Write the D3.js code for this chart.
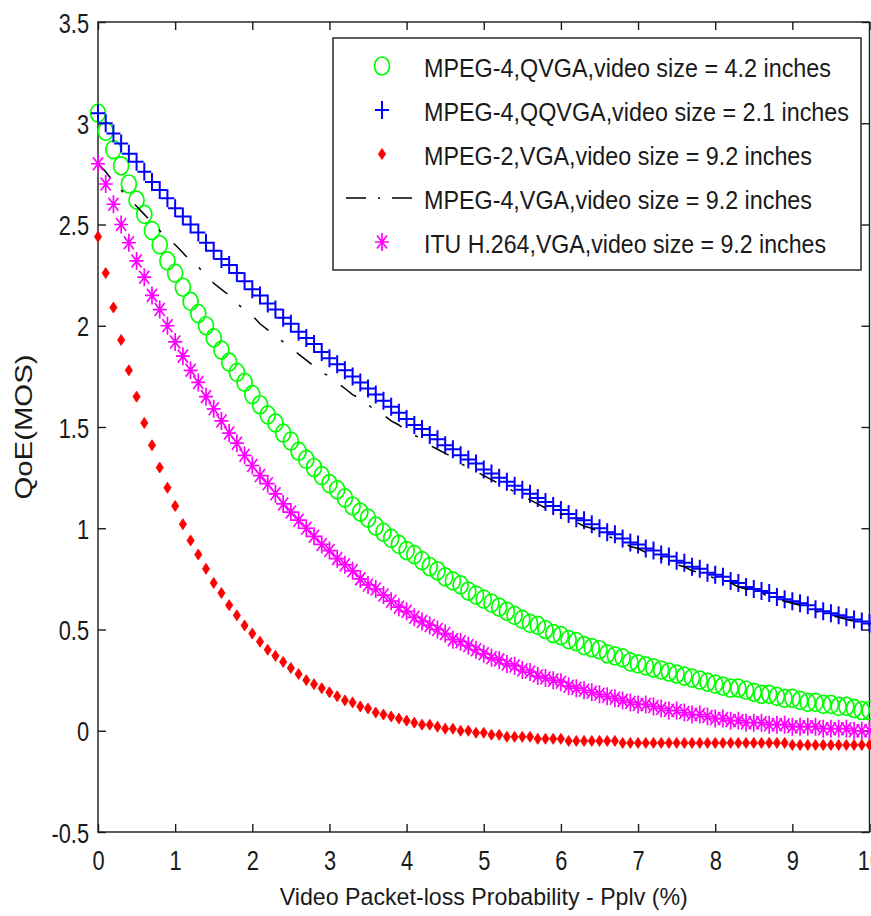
<!DOCTYPE html>
<html>
<head>
<meta charset="utf-8">
<script src="https://cdn.jsdelivr.net/npm/d3@7"></script>
<style>
  body { margin: 0; background: #fff; }
  svg { display: block; font-family: "Liberation Sans", Arial, sans-serif; }
</style>
</head>
<body>
<svg id="chart" width="871" height="916"></svg>
<script>
// tick values of both axes
const xTicks = [0, 1, 2, 3, 4, 5, 6, 7, 8, 9, 10];
const yTicks = [-0.5, 0, 0.5, 1, 1.5, 2, 2.5, 3, 3.5];

// packet loss probability (%) of every plotted point
const pplv = d3.range(0, 101).map(i => i / 10);

// QoE (MOS), one value per 0.1 %
const qvga = [
  3.05,2.96,2.87,2.79,2.70,2.62,2.55,2.47,2.40,2.32,
  2.26,2.19,2.12,2.06,2.00,1.94,1.88,1.82,1.77,1.72,
  1.66,1.61,1.56,1.52,1.47,1.43,1.38,1.34,1.30,1.26,
  1.22,1.19,1.15,1.11,1.08,1.05,1.01,0.98,0.95,0.92,
  0.89,0.87,0.84,0.81,0.79,0.76,0.74,0.72,0.69,0.67,
  0.65,0.63,0.61,0.59,0.57,0.55,0.53,0.52,0.50,0.48,
  0.47,0.45,0.44,0.42,0.41,0.40,0.38,0.37,0.36,0.34,
  0.33,0.32,0.31,0.30,0.29,0.28,0.27,0.26,0.25,0.24,
  0.23,0.22,0.21,0.21,0.20,0.19,0.18,0.18,0.17,0.16,
  0.16,0.15,0.14,0.14,0.13,0.13,0.12,0.12,0.11,0.10,
  0.10
];
const qqvga = [
  3.05,3.00,2.95,2.90,2.85,2.81,2.76,2.71,2.67,2.63,
  2.58,2.54,2.50,2.46,2.41,2.37,2.33,2.30,2.26,2.22,
  2.18,2.15,2.11,2.08,2.04,2.01,1.97,1.94,1.91,1.87,
  1.84,1.81,1.78,1.75,1.72,1.69,1.66,1.63,1.60,1.57,
  1.54,1.51,1.49,1.46,1.44,1.41,1.39,1.36,1.34,1.32,
  1.29,1.27,1.25,1.23,1.21,1.19,1.17,1.15,1.13,1.11,
  1.09,1.07,1.05,1.04,1.02,1.00,0.98,0.97,0.95,0.93,
  0.92,0.90,0.89,0.87,0.86,0.84,0.83,0.81,0.80,0.78,
  0.77,0.76,0.74,0.73,0.71,0.70,0.69,0.68,0.66,0.65,
  0.64,0.63,0.62,0.60,0.59,0.58,0.57,0.56,0.55,0.54,
  0.53
];
const mpeg2Vga = [
  2.44,2.26,2.09,1.93,1.78,1.65,1.52,1.41,1.30,1.20,
  1.11,1.02,0.94,0.87,0.80,0.73,0.68,0.62,0.57,0.52,
  0.48,0.44,0.40,0.37,0.34,0.31,0.28,0.25,0.23,0.21,
  0.19,0.17,0.15,0.14,0.12,0.11,0.09,0.08,0.07,0.06,
  0.05,0.04,0.03,0.03,0.02,0.01,0.01,0.00,0.00,-0.01,
  -0.01,-0.02,-0.02,-0.03,-0.03,-0.03,-0.03,-0.04,-0.04,-0.04,
  -0.04,-0.05,-0.05,-0.05,-0.05,-0.05,-0.05,-0.05,-0.06,-0.06,
  -0.06,-0.06,-0.06,-0.06,-0.06,-0.06,-0.06,-0.06,-0.06,-0.06,
  -0.06,-0.06,-0.06,-0.06,-0.06,-0.06,-0.06,-0.06,-0.06,-0.06,
  -0.07,-0.07,-0.07,-0.07,-0.07,-0.07,-0.07,-0.07,-0.07,-0.07,
  -0.07
];
const mpeg4Vga = [
  2.80,2.76,2.71,2.67,2.63,2.59,2.55,2.51,2.47,2.43,
  2.40,2.36,2.32,2.29,2.25,2.21,2.18,2.15,2.11,2.08,
  2.05,2.01,1.98,1.95,1.92,1.89,1.86,1.83,1.80,1.77,
  1.75,1.72,1.69,1.66,1.64,1.61,1.58,1.56,1.53,1.51,
  1.48,1.46,1.44,1.41,1.39,1.37,1.35,1.32,1.30,1.28,
  1.26,1.24,1.22,1.20,1.18,1.16,1.14,1.12,1.10,1.08,
  1.07,1.05,1.03,1.01,1.00,0.98,0.96,0.95,0.93,0.91,
  0.90,0.88,0.87,0.85,0.84,0.82,0.81,0.79,0.78,0.77,
  0.75,0.74,0.73,0.71,0.70,0.69,0.68,0.66,0.65,0.64,
  0.63,0.62,0.60,0.59,0.58,0.57,0.56,0.55,0.54,0.53,
  0.52
];
const h264Vga = [
  2.80,2.70,2.60,2.50,2.41,2.32,2.24,2.15,2.08,2.00,
  1.92,1.85,1.78,1.72,1.65,1.59,1.53,1.47,1.42,1.36,
  1.31,1.26,1.22,1.17,1.12,1.08,1.04,1.00,0.96,0.92,
  0.89,0.85,0.82,0.79,0.75,0.72,0.70,0.67,0.64,0.61,
  0.59,0.56,0.54,0.52,0.50,0.48,0.45,0.44,0.42,0.40,
  0.38,0.36,0.35,0.33,0.32,0.30,0.29,0.27,0.26,0.25,
  0.24,0.22,0.21,0.20,0.19,0.18,0.17,0.16,0.15,0.14,
  0.13,0.13,0.12,0.11,0.10,0.10,0.09,0.08,0.08,0.07,
  0.06,0.06,0.05,0.05,0.04,0.04,0.04,0.03,0.03,0.03,
  0.02,0.02,0.02,0.02,0.01,0.01,0.01,0.01,0.00,0.00,
  0.00
];

const legendLabels = [
  'MPEG-4,QVGA,video size = 4.2 inches',
  'MPEG-4,QQVGA,video size = 2.1 inches',
  'MPEG-2,VGA,video size = 9.2 inches',
  'MPEG-4,VGA,video size = 9.2 inches',
  'ITU H.264,VGA,video size = 9.2 inches'
];

// marker shapes, drawn around (0,0)
const markerPaths = {
  circle: 'M-7.5,0A7.5,9 0 1,0 7.5,0A7.5,9 0 1,0 -7.5,0Z',
  plus: 'M-7,0H7M0,-9V9',
  diamond: 'M0,-5.5L3.6,0L0,5.5L-3.6,0Z',
  star: 'M-7,0H7M0,-9V9M-5,-6.5L5,6.5M-5,6.5L5,-6.5'
};

const series = [
  { values: qvga, color: '#00ff00', marker: 'circle', width: 1.7 },
  { values: qqvga, color: '#0000ff', marker: 'plus', width: 2 },
  { values: mpeg2Vga, color: '#ff0000', marker: 'diamond', width: 0.8 },
  { values: mpeg4Vga, color: '#000000', marker: null, width: 1.5 },
  { values: h264Vga, color: '#ff00ff', marker: 'star', width: 1.7 }
];
const dashPattern = '19,16,3,17';

const svg = d3.select('#chart');

const x = d3.scaleLinear().domain([0, 10]).range([98, 869.5]);
const y = d3.scaleLinear().domain([-0.5, 3.5]).range([832, 22]);

// axes with inward ticks on all four sides
function styleAxis(g) {
  g.attr('font-family', null).attr('font-size', 28).attr('color', '#1a1a1a');
  g.select('.domain').remove();
  g.selectAll('line').attr('stroke-width', 1.4);
}

const bottomAxis = svg.append('g')
  .attr('transform', `translate(0,${y(-0.5)})`)
  .call(d3.axisBottom(x).tickValues(xTicks).tickFormat(d => String(d))
    .tickSizeInner(-8).tickSizeOuter(0).tickPadding(18))
  .call(styleAxis);
bottomAxis.selectAll('text').attr('transform', 'scale(0.78,1)');

const leftAxis = svg.append('g')
  .attr('transform', `translate(${x(0)},0)`)
  .call(d3.axisLeft(y).tickValues(yTicks).tickFormat(d => String(d))
    .tickSizeInner(-8).tickSizeOuter(0).tickPadding(11.5))
  .call(styleAxis);
leftAxis.selectAll('text').attr('dy', '0.36em').attr('transform', 'scale(0.78,1)');

svg.append('g')
  .attr('transform', `translate(0,${y(3.5)})`)
  .call(d3.axisTop(x).tickValues(xTicks).tickFormat('').tickSizeInner(-8).tickSizeOuter(0))
  .call(styleAxis);

svg.append('g')
  .attr('transform', `translate(${x(10)},0)`)
  .call(d3.axisRight(y).tickValues(yTicks).tickFormat('').tickSizeInner(-8).tickSizeOuter(0))
  .call(styleAxis);

// plot frame
svg.append('rect')
  .attr('x', x(0)).attr('y', y(3.5))
  .attr('width', x(10) - x(0)).attr('height', y(-0.5) - y(3.5))
  .attr('fill', 'none').attr('stroke', '#1a1a1a').attr('stroke-width', 1.4);

// axis titles
svg.append('text')
  .attr('x', (x(0) + x(10)) / 2).attr('y', 905)
  .attr('text-anchor', 'middle').attr('font-size', 24.5).attr('fill', '#1a1a1a')
  .attr('textLength', 408).attr('lengthAdjust', 'spacingAndGlyphs')
  .text('Video Packet-loss Probability - Pplv (%)');

svg.append('text')
  .attr('transform', `translate(32,${(y(-0.5) + y(3.5)) / 2}) rotate(-90)`)
  .attr('text-anchor', 'middle').attr('font-size', 24).attr('fill', '#1a1a1a')
  .attr('textLength', 145).attr('lengthAdjust', 'spacingAndGlyphs')
  .text('QoE(MOS)');

// the curves
const line = d3.line().x(d => x(d[0])).y(d => y(d[1]));

series.forEach(s => {
  const pts = s.values.map((v, i) => [pplv[i], v]);
  if (s.marker === null) {
    svg.append('path')
      .attr('d', line(pts))
      .attr('fill', 'none').attr('stroke', s.color).attr('stroke-width', s.width)
      .attr('stroke-dasharray', dashPattern);
    return;
  }
  const filled = s.marker === 'diamond';
  svg.append('g').selectAll('path')
    .data(pts)
    .join('path')
    .attr('d', markerPaths[s.marker])
    .attr('transform', d => `translate(${x(d[0])},${y(d[1])})`)
    .attr('fill', filled ? s.color : 'none')
    .attr('stroke', s.color)
    .attr('stroke-width', s.width);
});

// legend box in the upper right corner
const legend = svg.append('g');
legend.append('rect')
  .attr('x', 333).attr('y', 38).attr('width', 528).attr('height', 232)
  .attr('fill', '#fff').attr('stroke', '#1a1a1a').attr('stroke-width', 1.4);

const legendWidths = [407, 425, 388, 388, 402];

series.forEach((s, i) => {
  const base = 77 + i * 44;
  const cy = base - 11;
  if (s.marker === null) {
    legend.append('line')
      .attr('x1', 346).attr('x2', 415).attr('y1', cy).attr('y2', cy)
      .attr('stroke', s.color).attr('stroke-width', s.width)
      .attr('stroke-dasharray', '20,12,2,12');
  } else {
    const filled = s.marker === 'diamond';
    legend.append('path')
      .attr('d', markerPaths[s.marker])
      .attr('transform', `translate(382,${cy})`)
      .attr('fill', filled ? s.color : 'none')
      .attr('stroke', s.color)
      .attr('stroke-width', s.width);
  }
  legend.append('text')
    .attr('x', 424).attr('y', base)
    .attr('font-size', 25).attr('fill', '#1a1a1a')
    .attr('textLength', legendWidths[i]).attr('lengthAdjust', 'spacingAndGlyphs')
    .text(legendLabels[i]);
});
</script>
</body>
</html>
